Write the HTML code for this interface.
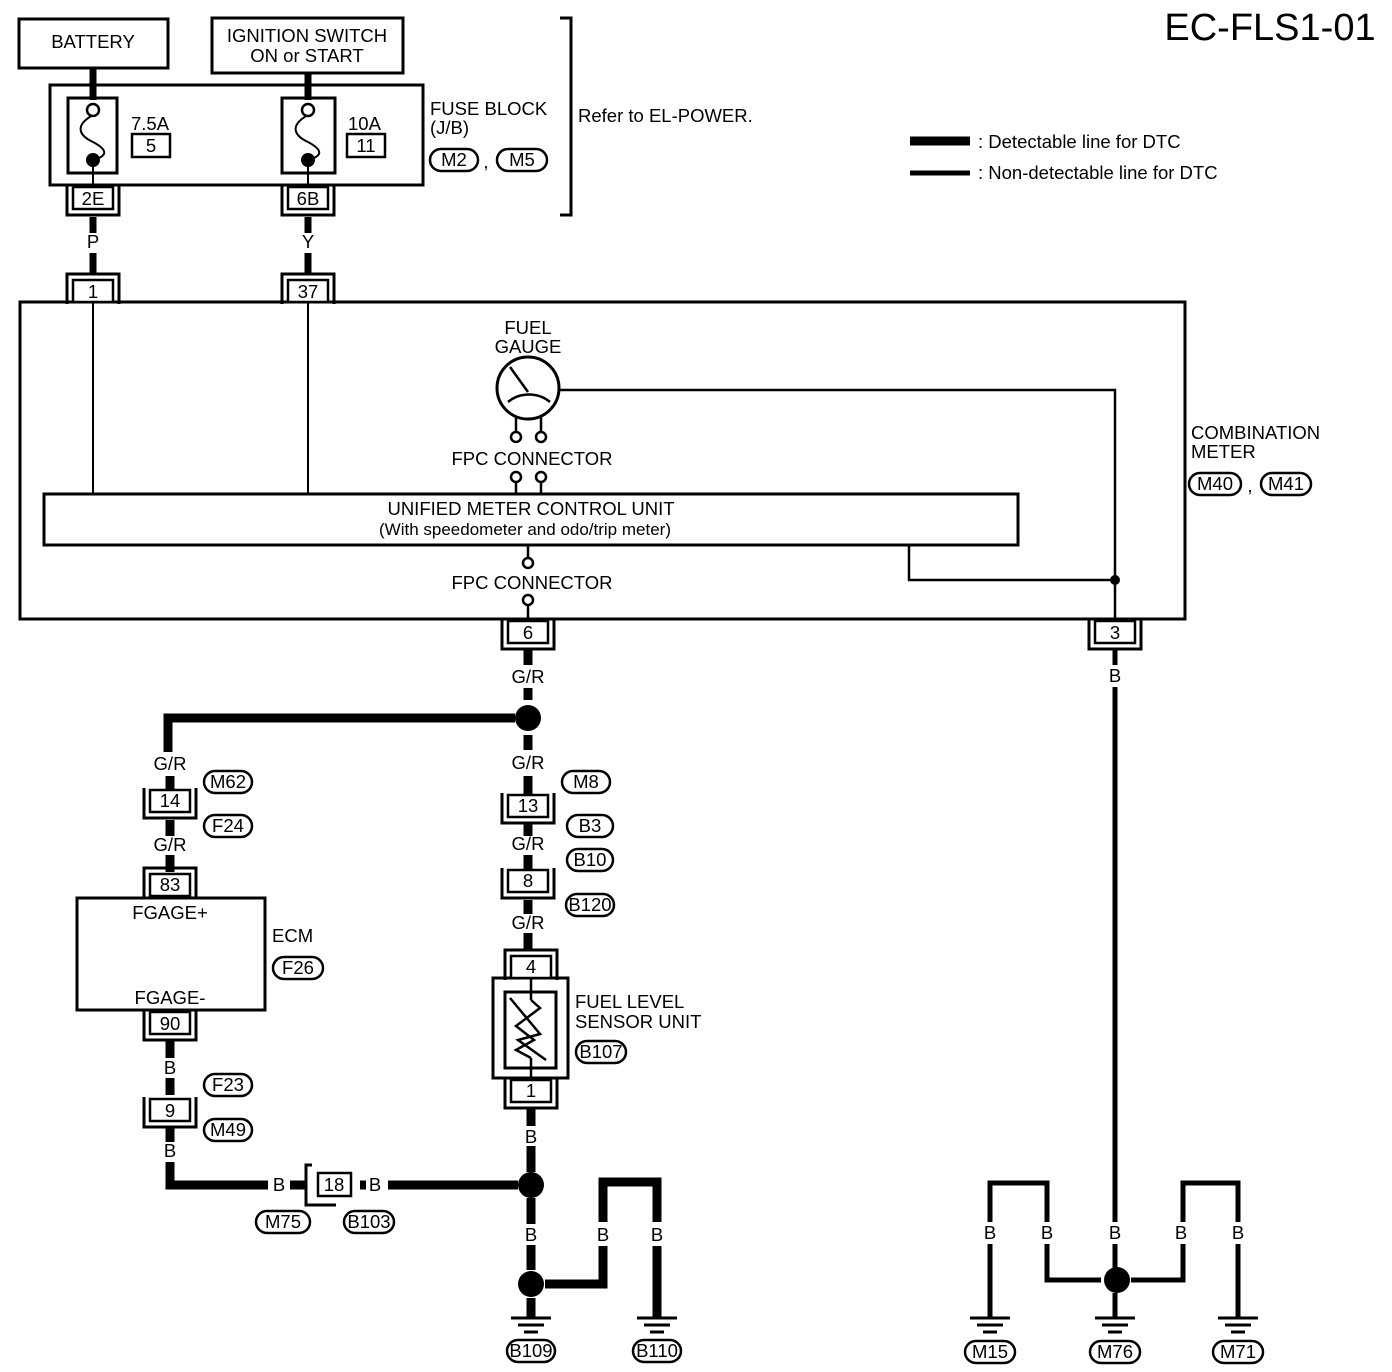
<!DOCTYPE html>
<html><head><meta charset="utf-8"><style>
html,body{margin:0;padding:0;background:#fff}
svg{display:block}
text{font-family:"Liberation Sans",Arial,sans-serif;font-size:18.5px;fill:#000}
.c{text-anchor:middle}
</style></head><body>
<svg width="1392" height="1372" viewBox="0 0 1392 1372" xmlns="http://www.w3.org/2000/svg">
<defs>
<g id="cd"><rect x="-20" y="0" width="40" height="22" fill="#fff" stroke="#000" stroke-width="2.5"/><path d="M-26 -2 V28 H26 V-2" fill="none" stroke="#000" stroke-width="3"/></g>
<g id="cu"><rect x="-20" y="0" width="40" height="22" fill="#fff" stroke="#000" stroke-width="2.5"/><path d="M-26 24 V-6 H26 V24" fill="none" stroke="#000" stroke-width="3"/></g>
<g id="gnd"><path d="M-20 0 H20 M-13 7 H13 M-7 14 H7" stroke="#000" stroke-width="3"/></g>
</defs>
<g fill="none" stroke="#000">
<rect x="19" y="19" width="149" height="49" stroke-width="3"/>
<rect x="212" y="18" width="191" height="55" stroke-width="3"/>
<rect x="50" y="85" width="373" height="100" stroke-width="3"/>
<path d="M93 68 V100 M308 73 V100" stroke-width="7"/>
<rect x="68" y="98" width="49" height="75" stroke-width="3"/>
<rect x="282" y="98" width="53" height="75" stroke-width="3"/>
<path d="M93 115 C75 125,78 135,93 142 C108 150,108 156,93 160 M93 160 V187" stroke-width="2"/>
<path d="M308 115 C290 125,293 135,308 142 C323 150,323 156,308 160 M308 160 V187" stroke-width="2"/>
<rect x="132" y="134" width="38" height="23" stroke-width="2.5"/>
<rect x="347" y="134" width="38" height="23" stroke-width="2.5"/>
<rect x="430" y="149" width="48" height="22" rx="11" stroke-width="2.5"/>
<rect x="497" y="149" width="50" height="22" rx="11" stroke-width="2.5"/>
<path d="M560 18 H571 V215 H560" stroke-width="3"/>
<path d="M910 141 H970" stroke-width="9"/>
<path d="M910 173 H970" stroke-width="5"/>
<path d="M93 217 V233 M93 253 V275 M308 217 V233 M308 253 V275" stroke-width="7"/>
<rect x="20" y="302" width="1165" height="317" stroke-width="3"/>
<path d="M93 302 V494 M308 302 V494" stroke-width="2"/>
<rect x="44" y="494" width="974" height="51" stroke-width="3"/>
<circle cx="528" cy="388" r="31" stroke-width="3"/>
<path d="M510 367 L528 392 M508 402 C520 392,538 392,550 402" stroke-width="2.5"/>
<path d="M559 390 H1115 V620 M909 545 V580 H1115" stroke-width="2.5"/>
<path d="M516 416 V432 M541 416 V432 M516 482 V494 M541 482 V494 M528 545 V558 M528 605 V620" stroke-width="2.5"/>
<circle cx="516" cy="437" r="5" stroke-width="2.5"/><circle cx="541" cy="437" r="5" stroke-width="2.5"/>
<circle cx="516" cy="477" r="5" stroke-width="2.5"/><circle cx="541" cy="477" r="5" stroke-width="2.5"/>
<circle cx="528" cy="563" r="5" stroke-width="2.5"/><circle cx="528" cy="600" r="5" stroke-width="2.5"/>
<path d="M528 650 V665 M528 688 V700 M528 735 V750 M528 776 V795 M528 823 V836 M528 855 V870 M528 900 V914 M528 933 V950" stroke-width="9"/>
<path d="M515 718 H168 V752" stroke-width="9"/>
<path d="M170 776 V790 M170 820 V836 M170 855 V872 M170 1040 V1058 M170 1078 V1095 M170 1126 V1142" stroke-width="9"/>
<path d="M170 1162 V1185 H268 M290 1185 H306 M360 1185 H366 M388 1185 H518" stroke-width="9"/>
<path d="M531 1108 V1126 M531 1146 V1172 M531 1198 V1224 M531 1245 V1270 M531 1298 V1318 M545 1284 H603 V1246 M603 1222 V1182 H657 V1222 M657 1246 V1318" stroke-width="9"/>
<path d="M1115 650 V665 M1115 687 V1222 M1115 1244 V1268 M1115 1293 V1318 M1101 1280 H1047 V1244 M1047 1222 V1183 H990 V1222 M990 1244 V1318 M1131 1280 H1183 V1244 M1183 1222 V1183 H1238 V1222 M1238 1244 V1318" stroke-width="5"/>
<rect x="77" y="898" width="188" height="112" stroke-width="3"/>
<rect x="493" y="978" width="75" height="100" stroke-width="3"/>
<rect x="505" y="992" width="51" height="76" stroke-width="3"/>
<path d="M531 978 V1000 M531 1058 V1080" stroke-width="2.5"/>
<path d="M510 998 L540 1034 L518 1040 L546 1060 M531 1000 L540 1008 L516 1026 L534 1040 L516 1050 L531 1058" stroke-width="2.5"/>
<g stroke-width="2.5">
<rect x="204" y="771" width="48" height="22" rx="11"/>
<rect x="204" y="815" width="48" height="22" rx="11"/>
<rect x="273" y="957" width="50" height="22" rx="11"/>
<rect x="204" y="1074" width="48" height="22" rx="11"/>
<rect x="204" y="1119" width="48" height="22" rx="11"/>
<rect x="256" y="1211" width="54" height="22" rx="11"/>
<rect x="344" y="1211" width="50" height="22" rx="11"/>
<rect x="562" y="771" width="48" height="22" rx="11"/>
<rect x="567" y="815" width="46" height="22" rx="11"/>
<rect x="567" y="849" width="46" height="22" rx="11"/>
<rect x="566" y="894" width="48" height="22" rx="11"/>
<rect x="576" y="1041" width="50" height="22" rx="11"/>
<rect x="507" y="1340" width="48" height="22" rx="11"/>
<rect x="633" y="1340" width="48" height="22" rx="11"/>
<rect x="965" y="1341" width="50" height="22" rx="11"/>
<rect x="1090" y="1341" width="50" height="22" rx="11"/>
<rect x="1213" y="1341" width="50" height="22" rx="11"/>
<rect x="1189" y="473" width="52" height="22" rx="11"/>
<rect x="1261" y="473" width="50" height="22" rx="11"/>
</g>
</g>
<circle cx="93" cy="160" r="7"/><circle cx="308" cy="160" r="7"/>
<circle cx="93" cy="110" r="6" fill="#fff" stroke="#000" stroke-width="2.5"/>
<circle cx="308" cy="110" r="6" fill="#fff" stroke="#000" stroke-width="2.5"/>
<circle cx="1115" cy="580" r="5"/>
<circle cx="528" cy="718" r="13"/>
<circle cx="531" cy="1185" r="13"/>
<circle cx="531" cy="1284" r="13"/>
<circle cx="1117" cy="1280" r="13"/>
<use href="#cd" x="93" y="187"/><use href="#cd" x="308" y="187"/>
<use href="#cu" x="93" y="280"/><use href="#cu" x="308" y="280"/>
<use href="#cd" x="528" y="621"/><use href="#cd" x="1115" y="621"/>
<use href="#cd" x="170" y="790"/><use href="#cu" x="170" y="874"/>
<use href="#cd" x="170" y="1012"/><use href="#cd" x="170" y="1099"/>
<use href="#cd" x="528" y="795"/><use href="#cd" x="528" y="870"/>
<use href="#cu" x="531" y="956"/><use href="#cd" x="531" y="1080"/>
<rect x="318" y="1173" width="33" height="23" fill="#fff" stroke="#000" stroke-width="2.5"/>
<path d="M312 1165 H306 V1205 H336" fill="none" stroke="#000" stroke-width="3"/>
<use href="#gnd" x="531" y="1318"/><use href="#gnd" x="657" y="1318"/>
<use href="#gnd" x="990" y="1318"/><use href="#gnd" x="1115" y="1318"/><use href="#gnd" x="1238" y="1318"/>
<text x="1270" y="40" class="c" style="font-size:38px">EC-FLS1-01</text>
<text x="93" y="48" class="c">BATTERY</text>
<text x="307" y="42" class="c">IGNITION SWITCH</text>
<text x="307" y="62" class="c">ON or START</text>
<text x="131" y="130">7.5A</text><text x="151" y="152" class="c">5</text>
<text x="348" y="130">10A</text><text x="366" y="152" class="c">11</text>
<text x="430" y="115">FUSE BLOCK</text><text x="430" y="134">(J/B)</text>
<text x="454" y="166" class="c">M2</text><text x="486" y="168" class="c">,</text><text x="522" y="166" class="c">M5</text>
<text x="578" y="122">Refer to EL-POWER.</text>
<text x="978" y="148">: Detectable line for DTC</text>
<text x="978" y="179">: Non-detectable line for DTC</text>
<text x="93" y="205" class="c">2E</text><text x="308" y="205" class="c">6B</text>
<text x="93" y="248" class="c">P</text><text x="308" y="248" class="c">Y</text>
<text x="93" y="298" class="c">1</text><text x="308" y="298" class="c">37</text>
<text x="528" y="334" class="c">FUEL</text><text x="528" y="353" class="c">GAUGE</text>
<text x="532" y="465" class="c">FPC CONNECTOR</text>
<text x="531" y="515" class="c">UNIFIED METER CONTROL UNIT</text>
<text x="525" y="535" class="c" style="font-size:17px">(With speedometer and odo/trip meter)</text>
<text x="532" y="589" class="c">FPC CONNECTOR</text>
<text x="1191" y="439">COMBINATION</text><text x="1191" y="458">METER</text>
<text x="1215" y="490" class="c">M40</text><text x="1250" y="492" class="c">,</text><text x="1286" y="490" class="c">M41</text>
<text x="528" y="639" class="c">6</text><text x="1115" y="639" class="c">3</text>
<text x="528" y="683" class="c">G/R</text><text x="1115" y="682" class="c">B</text>
<text x="170" y="770" class="c">G/R</text><text x="170" y="807" class="c">14</text>
<text x="228" y="788" class="c">M62</text><text x="228" y="832" class="c">F24</text>
<text x="170" y="851" class="c">G/R</text><text x="170" y="891" class="c">83</text>
<text x="170" y="919" class="c">FGAGE+</text><text x="170" y="1004" class="c">FGAGE-</text>
<text x="272" y="942">ECM</text><text x="298" y="974" class="c">F26</text>
<text x="170" y="1030" class="c">90</text><text x="170" y="1074" class="c">B</text>
<text x="228" y="1091" class="c">F23</text><text x="170" y="1117" class="c">9</text><text x="228" y="1136" class="c">M49</text>
<text x="170" y="1157" class="c">B</text>
<text x="279" y="1191" class="c">B</text><text x="334" y="1191" class="c">18</text><text x="375" y="1191" class="c">B</text>
<text x="283" y="1228" class="c">M75</text><text x="369" y="1228" class="c">B103</text>
<text x="528" y="769" class="c">G/R</text><text x="528" y="812" class="c">13</text>
<text x="586" y="788" class="c">M8</text><text x="590" y="832" class="c">B3</text>
<text x="528" y="850" class="c">G/R</text><text x="528" y="887" class="c">8</text>
<text x="590" y="866" class="c">B10</text><text x="590" y="911" class="c">B120</text>
<text x="528" y="929" class="c">G/R</text><text x="531" y="973" class="c">4</text>
<text x="575" y="1008">FUEL LEVEL</text><text x="575" y="1028">SENSOR UNIT</text>
<text x="601" y="1058" class="c">B107</text>
<text x="531" y="1097" class="c">1</text>
<text x="531" y="1143" class="c">B</text><text x="531" y="1241" class="c">B</text>
<text x="603" y="1241" class="c">B</text><text x="657" y="1241" class="c">B</text>
<text x="531" y="1357" class="c">B109</text><text x="657" y="1357" class="c">B110</text>
<text x="990" y="1239" class="c">B</text><text x="1047" y="1239" class="c">B</text><text x="1115" y="1239" class="c">B</text>
<text x="1181" y="1239" class="c">B</text><text x="1238" y="1239" class="c">B</text>
<text x="990" y="1358" class="c">M15</text><text x="1115" y="1358" class="c">M76</text><text x="1238" y="1358" class="c">M71</text>
</svg>
</body></html>
